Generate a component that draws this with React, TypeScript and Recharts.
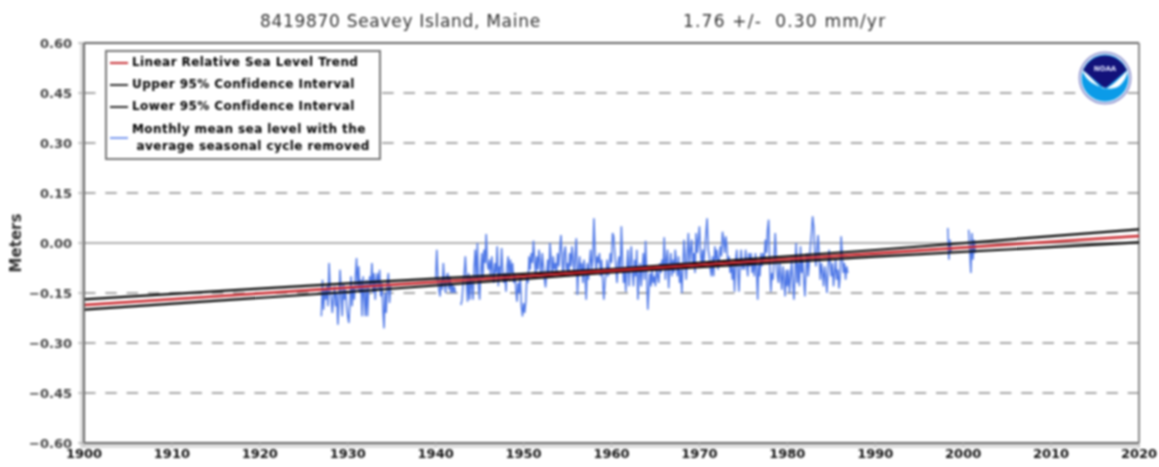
import { ComposedChart, Line, XAxis, YAxis, CartesianGrid, ReferenceLine } from 'recharts';

const title = '8419870 Seavey Island, Maine';
const trendText = '1.76 +/-  0.30 mm/yr';

const xTicks = [1900, 1910, 1920, 1930, 1940, 1950, 1960, 1970, 1980, 1990, 2000, 2010, 2020];
const yTicks = [-0.6, -0.45, -0.3, -0.15, 0, 0.15, 0.3, 0.45, 0.6];

const trendYears = [1900, 1930, 1960, 1990, 2020];
const trendValues = [-0.186, -0.134, -0.083, -0.031, 0.021];
const upperValues = [-0.169, -0.121, -0.078, -0.021, 0.041];
const lowerValues = [-0.2, -0.147, -0.088, -0.041, 0.002];

// readings, eight per year
const STEP = 0.125;

const start1927 = 1927;
const levels1927 = [
  -0.22, -0.11, -0.2, -0.14, -0.17, -0.13, -0.19, -0.06,
  -0.14, -0.17, -0.21, -0.16, -0.13, -0.19, -0.15, -0.245,
  -0.18, -0.08, -0.16, -0.22, -0.12, -0.17, -0.14, -0.19,
  -0.22, -0.24, -0.18, -0.1, -0.19, -0.13, -0.17, -0.1,
  -0.045, -0.14, -0.07, -0.15, -0.11, -0.22, -0.1, -0.16,
  -0.22, -0.11, -0.22, -0.14, -0.1, -0.13, -0.06, -0.15,
  -0.09, -0.17, -0.11, -0.09, -0.14, -0.08, -0.16, -0.12,
  -0.2, -0.256, -0.15, -0.21, -0.12, -0.09, -0.18, -0.13,
];

const start1940 = 1940;
const levels1940 = [
  -0.11, -0.02, -0.1, -0.14, -0.16, -0.11, -0.14, -0.06,
  -0.12, -0.15, -0.1, -0.09, -0.14, -0.1, -0.15, -0.12,
  -0.15, -0.13, -0.15,
];

const start1943 = 1942.875;
const levels1943 = [
  -0.186,
  -0.17, -0.12, -0.09, -0.04, -0.11, -0.176, -0.09, -0.17,
  -0.1, -0.13, -0.17, -0.07, -0.02, -0.11, 0, -0.13,
  -0.17, -0.09, -0.03, -0.11, -0.02, -0.06, 0.027, -0.06,
  -0.08, -0.05, -0.1, -0.04, -0.08, -0.12, -0.06, -0.09,
  -0.01, -0.13, -0.07, -0.1, -0.015, -0.08, -0.12, -0.09,
  -0.146, -0.07, -0.04, -0.11, -0.05, -0.09, -0.06, -0.12,
  -0.09, -0.14, -0.176, -0.12, -0.15, -0.1, -0.19, -0.22,
  -0.18, -0.21, -0.176, -0.1, -0.12, -0.04, -0.08, -0.03,
  -0.06, 0.007, -0.05, -0.1, -0.04, -0.08, -0.02, -0.06,
  -0.1, -0.03, -0.07, -0.11, -0.133, -0.09, -0.05, -0.1,
  0, -0.05, -0.1, -0.04, -0.08, -0.06, -0.09, -0.03,
  -0.07, -0.02, 0.024, -0.05, -0.1, -0.03, -0.01, -0.08,
  -0.06, -0.1, -0.03, -0.07, -0.01, -0.05, -0.09, -0.03,
  0.014, -0.156, -0.08, -0.04, -0.09, -0.06, -0.12, -0.05,
  -0.1, -0.17, -0.06, -0.11, -0.06, -0.02, -0.08, -0.05,
  0.074, -0.02, -0.09, -0.04, -0.06, -0.03, -0.1, -0.05,
  -0.11, -0.17, -0.12, -0.09, -0.05, -0.1, -0.07, -0.03,
  -0.06, 0.03, 0.02, -0.03, -0.07, -0.12, -0.06, -0.04,
  -0.09, 0.05, -0.05, -0.12, -0.08, -0.146, -0.07, -0.02,
  -0.13, -0.06, -0.01, -0.09, -0.13, -0.05, -0.1, -0.02,
  -0.17, -0.1, -0.06, -0.13, -0.08, -0.03, -0.11, 0.007,
  -0.09, -0.2, -0.14, -0.09, -0.13, -0.08, -0.12, -0.1,
  -0.13, -0.07, -0.1, -0.12, -0.06, -0.09, -0.05, -0.08,
  0.017, -0.11, -0.05, -0.02, -0.136, -0.07, -0.03, -0.1,
  -0.05, -0.09, -0.02, -0.06, -0.1, -0.04, -0.12, -0.08,
  -0.15, -0.07, 0.01, -0.05, -0.11, -0.03, 0.03, -0.07,
  -0.02, 0.01, -0.06, -0.03, -0.09, 0.03, -0.03, 0.01,
  0.05, -0.03, -0.07, -0.02, -0.06, -0.01, 0.03, 0.074,
  -0.02, -0.04, -0.08, -0.1, -0.04, -0.1, -0.01, -0.05,
  -0.02, -0.08, -0.05, -0.01, -0.04, 0.034, 0.01, -0.03,
  0.02, -0.01, -0.07, -0.04, -0.09, -0.06, -0.11, -0.07,
  -0.146, -0.05, -0.02, -0.09, -0.146, -0.06, -0.02, -0.08,
  -0.05, -0.08, -0.02, -0.06, -0.1, -0.03, -0.07, -0.03,
  -0.09, -0.05, -0.1, -0.03, -0.08, -0.17, -0.06, -0.1,
  -0.03, -0.07, -0.03, -0.05, 0.01, -0.03, 0.04, 0.07,
  -0.06, -0.146, -0.09, -0.11, -0.04, 0.03, -0.05, -0.1,
  -0.12, -0.06, -0.1, -0.14, -0.07, -0.11, -0.16, -0.08,
  -0.13, -0.08, -0.15, -0.1, -0.05, -0.12, -0.17, -0.09,
  0, -0.12, -0.06, -0.13, -0.01, -0.09, -0.05, -0.11,
  -0.16, -0.08, -0.03, -0.1, -0.06, -0.01, 0.03, 0.08,
  0.05, -0.03, -0.07, -0.02, 0.024, -0.04, -0.11, -0.06,
  -0.09, -0.13, -0.07, -0.1, -0.15, -0.08, -0.02, -0.06,
  -0.1, -0.06, -0.13, -0.09, -0.05, -0.11, -0.08, -0.136,
  -0.1, 0.02, -0.04, -0.09, -0.06, -0.11, -0.07, -0.09,
];

const start1998 = 1998.25;
const levels1998 = [0.045, -0.05, 0.01, -0.03];

const start2000 = 2000.625;
const levels2000 = [0.04, -0.02, -0.09, 0.03, -0.05, 0.01, -0.03];

const legendItems = [
  { color: '#c8343a', lines: ['Linear Relative Sea Level Trend'] },
  { color: '#333333', lines: ['Upper 95% Confidence Interval'] },
  { color: '#333333', lines: ['Lower 95% Confidence Interval'] },
  { color: '#7d9cf0', lines: ['Monthly mean sea level with the', ' average seasonal cycle removed'] },
];

const FONT = '"DejaVu Sans", sans-serif';

const monthly = (start: number, values: number[]) =>
  values.map((level, i) => ({ year: start + i * STEP, level }));

const segments = [
  monthly(start1927, levels1927),
  monthly(start1940, levels1940),
  monthly(start1943, levels1943),
  monthly(start1998, levels1998),
  monthly(start2000, levels2000),
];

const trendRows = trendYears.map((year, i) => ({
  year,
  trend: trendValues[i],
  upper: upperValues[i],
  lower: lowerValues[i],
}));

function LegendBox() {
  return (
    <div style={{ position: 'absolute', left: 105, top: 50, border: '2px solid #777', background: '#fff', padding: '3px 2px 3px 3px', fontFamily: FONT, fontWeight: 700, fontSize: 12, letterSpacing: 0.42, color: '#000', width: 267, boxSizing: 'content-box' }}>
      {legendItems.map(item => (
        <div key={item.lines[0]} style={{ display: 'flex', alignItems: 'center', marginBottom: item.lines.length > 1 ? 0 : 7 }}>
          <span style={{ width: 18, marginRight: 4, flex: 'none', borderTop: `2px solid ${item.color}` }} />
          <span style={{ whiteSpace: 'pre', lineHeight: item.lines.length > 1 ? '17px' : '15px' }}>
            {item.lines.map(t => <div key={t}>{t}</div>)}
          </span>
        </div>
      ))}
    </div>
  );
}

function NoaaLogo() {
  return (
    <svg width={56} height={56} viewBox="0 0 56 56" style={{ position: 'absolute', left: 1077, top: 50 }}>
      <circle cx={28} cy={28} r={25.5} fill="#fff" stroke="#9a9ed4" strokeWidth={2} />
      <circle cx={28} cy={28} r={23.5} fill="#0b9be8" />
      <path d="M10 14 A23.5 23.5 0 0 1 46 14 L50 20 L30 37 Q28 38 26 37 L6 20 Z" fill="#12127a" />
      <path d="M5 20 C12 24 18 33 25 38 C32 41 42 28 51 20 C48 34 40 41 28 38 C18 36 9 31 5 20 Z" fill="#fff" />
      <text x={28} y={21} textAnchor="middle" fontSize={7} fontWeight={700} fontFamily={FONT} fill="#dfe3ff">NOAA</text>
    </svg>
  );
}

export default function App() {
  return (
    <div style={{ position: 'absolute', left: 0, top: 0, width: 1159, height: 467, background: '#fff', overflow: 'hidden', filter: 'blur(0.8px)' }}>
      <div style={{ position: 'absolute', left: 80, top: 43, width: 4, height: 405, background: '#ddd' }} />
      <div style={{ position: 'absolute', left: 80, top: 444, width: 1060, height: 4, background: '#ddd' }} />
      <div style={{ position: 'absolute', left: 260, top: 11, fontFamily: FONT, fontSize: 17, letterSpacing: 0.7, color: '#333', whiteSpace: 'pre' }}>{title}</div>
      <div style={{ position: 'absolute', left: 683, top: 11, fontFamily: FONT, fontSize: 17, letterSpacing: 1.2, color: '#333', whiteSpace: 'pre' }}>{trendText}</div>
      <div style={{ position: 'absolute', left: 0, top: 0 }}>
        <ComposedChart width={1159} height={467} margin={{ top: 43, right: 20, bottom: 0, left: 0 }} data={trendRows}>
          <CartesianGrid horizontal vertical={false} stroke="#a8a8a8" strokeWidth={2} strokeDasharray="11.5 9.8" />
          <XAxis
            dataKey="year"
            type="number"
            domain={[1900, 2020]}
            ticks={xTicks}
            interval={0}
            height={24}
            axisLine={{ stroke: '#666', strokeWidth: 2 }}
            tickLine={{ stroke: '#bbb' }}
            tickSize={4}
            tick={{ fill: '#111', fontSize: 13, fontWeight: 700, fontFamily: FONT }}
          />
          <YAxis
            type="number"
            domain={[-0.6, 0.6]}
            ticks={yTicks}
            interval={0}
            width={84}
            allowDataOverflow
            axisLine={{ stroke: '#666', strokeWidth: 2 }}
            tickLine={{ stroke: '#999' }}
            tickSize={6}
            tickMargin={6}
            tickFormatter={(v: number) => v.toFixed(2).replace('-', '\u2212')}
            tick={{ fill: '#444', fontSize: 13, fontWeight: 700, fontFamily: FONT }}
            label={{ value: 'Meters', angle: -90, position: 'insideLeft', offset: 16, style: { fill: '#333', fontSize: 15, fontWeight: 700, fontFamily: FONT, textAnchor: 'middle' } }}
          />
          <ReferenceLine y={0} stroke="#b0b0b0" strokeWidth={2} />
          <ReferenceLine y={0.6} stroke="#666" strokeWidth={2} />
          <ReferenceLine x={2020} stroke="#888" strokeWidth={2} />
          {segments.map(rows => (
            <Line
              key={rows[0].year}
              data={rows}
              dataKey="level"
              type="linear"
              stroke="#4f78e6"
              strokeWidth={1.5}
              dot={false}
              legendType="none"
              isAnimationActive={false}
            />
          ))}
          <Line dataKey="upper" type="linear" stroke="#000" strokeWidth={2.2} dot={false} legendType="none" isAnimationActive={false} />
          <Line dataKey="lower" type="linear" stroke="#000" strokeWidth={2.2} dot={false} legendType="none" isAnimationActive={false} />
          <Line dataKey="trend" type="linear" stroke="#c8242a" strokeWidth={2.6} dot={false} legendType="none" isAnimationActive={false} />
        </ComposedChart>
      </div>
      <LegendBox />
      <NoaaLogo />
    </div>
  );
}
